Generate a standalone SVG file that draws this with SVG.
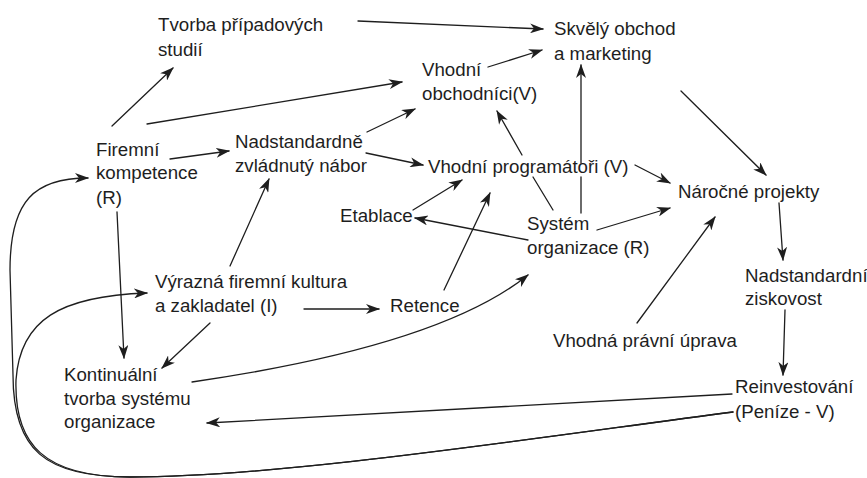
<svg xmlns="http://www.w3.org/2000/svg" width="867" height="478" viewBox="0 0 867 478">
<style>
  text { font-family: "Liberation Sans", Arial, sans-serif; font-size: 18.7px; fill: #1e1e1e; }
  .c path { fill: none; stroke: #1e1e1e; stroke-width: 1.3; stroke-linecap: round; }
  .a { marker-end: url(#ah); }
</style>
<defs>
  <marker id="ah" viewBox="0 0 14 10" refX="13" refY="5" markerWidth="14" markerHeight="10" markerUnits="userSpaceOnUse" orient="auto">
    <path d="M0,0 L14,5 L0,10 L4,5 Z" fill="#1e1e1e"/>
  </marker>
</defs>
<rect width="867" height="478" fill="#ffffff"/>

<g id="connectors" class="c">
  <path class="a" d="M358,21 L543,29"/>
  <path class="a" d="M112,126 L173,68"/>
  <path class="a" d="M147,124 L402,82"/>
  <path class="a" d="M170,159 L229,151"/>
  <path class="a" d="M367,132 L415,109"/>
  <path class="a" d="M366,153 L423,165"/>
  <path class="a" d="M488,67 L542,50"/>
  <path class="a" d="M553,210 L533,177 M522,155 L497,111"/>
  <path class="a" d="M581,213 L581,177 M581,163 L581,65"/>
  <path class="a" d="M635,165 L670,183"/>
  <path class="a" d="M597,230 L670,208"/>
  <path class="a" d="M528,240 L415,218"/>
  <path class="a" d="M413,210 L462,180"/>
  <path class="a" d="M444,290 L490,193"/>
  <path class="a" d="M304,309 L379,309"/>
  <path class="a" d="M230,266 L269,179"/>
  <path class="a" d="M210,323 L162,368"/>
  <path class="a" d="M117,212 L124,358"/>
  <path class="a" d="M192,382 C330,362 460,330 528,275"/>
  <path class="a" d="M637,323 L715,217"/>
  <path class="a" d="M681,91 L766,175"/>
  <path class="a" d="M779,203 L783,260"/>
  <path class="a" d="M785,310 L783,375"/>
  <path class="a" d="M732,394 L207,423"/>
  <path class="a" d="M733,412 C520,440 280,477 130,477 C45,477 13,450 13,375 L10,270 C10,200 35,178 88,178"/>
  <path class="a" d="M733,412 C520,440 280,477 130,477 C45,477 14,445 16,380 C20,320 60,296 147,293"/>
</g>

<g id="tvorba"><text x="158" y="31">Tvorba případových</text><text x="158" y="56">studií</text></g>
<g id="skvely"><text x="554" y="35">Skvělý obchod</text><text x="554" y="60">a marketing</text></g>
<g id="obchodnici"><text x="422" y="76">Vhodní</text><text x="422" y="100">obchodníci(V)</text></g>
<g id="firemni"><text x="96" y="156">Firemní</text><text x="96" y="179">kompetence</text><text x="96" y="204">(R)</text></g>
<g id="nabor"><text x="235" y="148">Nadstandardně</text><text x="235" y="172">zvládnutý nábor</text></g>
<g id="programatori"><text x="428" y="173">Vhodní programátoři (V)</text></g>
<g id="narocne"><text x="678" y="198">Náročné projekty</text></g>
<g id="etablace"><text x="340" y="222">Etablace</text></g>
<g id="system"><text x="527" y="230">Systém</text><text x="527" y="254">organizace (R)</text></g>
<g id="kultura"><text x="155" y="288">Výrazná firemní kultura</text><text x="155" y="312">a zakladatel (I)</text></g>
<g id="retence"><text x="390" y="312">Retence</text></g>
<g id="ziskovost"><text x="745" y="282">Nadstandardní</text><text x="745" y="305">ziskovost</text></g>
<g id="pravni"><text x="553" y="347">Vhodná právní úprava</text></g>
<g id="kontinualni"><text x="64" y="381">Kontinuální</text><text x="64" y="405">tvorba systému</text><text x="64" y="428">organizace</text></g>
<g id="reinvestovani"><text x="735" y="393">Reinvestování</text><text x="735" y="418">(Peníze - V)</text></g>
</svg>
